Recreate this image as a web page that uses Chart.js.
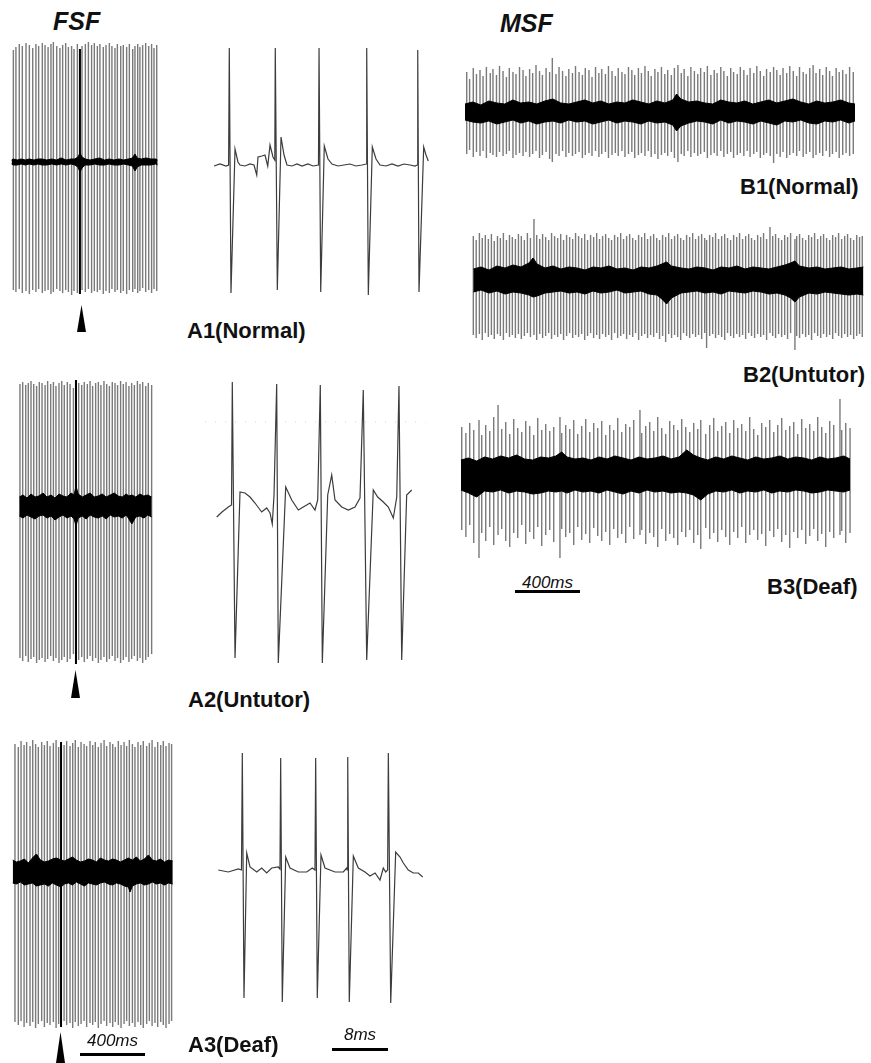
<!DOCTYPE html>
<html>
<head>
<meta charset="utf-8">
<script src="https://cdn.jsdelivr.net/npm/chart.js@4.4.1/dist/chart.umd.min.js"></script>
<style>
  body { margin: 0; background: #fff; }
  #fig { position: relative; width: 871px; height: 1063px; overflow: hidden; font-family: "Liberation Sans", Arial, sans-serif; }
  #fig canvas { position: absolute; }
  .lbl { position: absolute; font-weight: bold; font-size: 22px; line-height: 22px; color: #111; white-space: nowrap; }
  .head { position: absolute; font-weight: bold; font-style: italic; font-size: 25px; line-height: 25px; color: #111; }
  .sc { position: absolute; font-style: italic; font-size: 17px; line-height: 17px; color: #111; text-align: center; }
  .bar { position: absolute; height: 3px; background: #000; }
  .arrow { position: absolute; width: 9px; background: #000; clip-path: polygon(50% 0, 100% 100%, 0 100%); }
</style>
</head>
<body>
<div id="fig">
  <div class="head" style="left:53px;top:9px">FSF</div>
  <div class="head" style="left:500px;top:11px">MSF</div>

  <canvas id="a1raw" width="150" height="262" style="left:10px;top:38px"></canvas>
  <canvas id="a1zoom" width="235" height="260" style="left:205px;top:40px"></canvas>
  <div class="arrow" style="left:77px;top:305px;height:27px"></div>
  <div class="lbl" style="left:187px;top:320px">A1(Normal)</div>

  <canvas id="a2raw" width="145" height="295" style="left:15px;top:375px"></canvas>
  <canvas id="a2zoom" width="235" height="295" style="left:205px;top:375px"></canvas>
  <div class="arrow" style="left:71px;top:670px;height:28px"></div>
  <div class="lbl" style="left:188px;top:689px">A2(Untutor)</div>

  <canvas id="a3raw" width="170" height="300" style="left:10px;top:735px"></canvas>
  <canvas id="a3zoom" width="235" height="275" style="left:205px;top:740px"></canvas>
  <div class="arrow" style="left:56px;top:1032px;height:31px"></div>
  <div class="sc" style="left:80px;top:1032px;width:65px">400ms</div>
  <div class="bar" style="left:80px;top:1053px;width:65px"></div>
  <div class="lbl" style="left:188px;top:1034px">A3(Deaf)</div>
  <div class="sc" style="left:332px;top:1026px;width:56px">8ms</div>
  <div class="bar" style="left:332px;top:1048px;width:56px"></div>

  <canvas id="b1" width="400" height="120" style="left:460px;top:50px"></canvas>
  <div class="lbl" style="left:740px;top:176px">B1(Normal)</div>
  <canvas id="b2" width="403" height="145" style="left:465px;top:210px"></canvas>
  <div class="lbl" style="left:743px;top:364px">B2(Untutor)</div>
  <canvas id="b3" width="403" height="175" style="left:455px;top:390px"></canvas>
  <div class="sc" style="left:515px;top:574px;width:65px">400ms</div>
  <div class="bar" style="left:515px;top:590px;width:65px"></div>
  <div class="lbl" style="left:767px;top:576px">B3(Deaf)</div>
</div>

<script>
// spikes: [time ms, peak, trough] (amplitude in arbitrary units)
const A1_SPIKES = [[21,112,-128],[37,115,-130],[58,118,-127],[77,116,-131],[100,119,-129],[121,117,-132],[142,114,-128],[162,118,-130],[179,116,-127],[202,119,-131],[219,117,-129],[238,115,-128],[256,118,-132],[271,120,-130],[292,116,-127],[312,114,-129],[329,117,-131],[348,119,-128],[365,115,-130],[385,116,-133],[400,113,-129],[421,118,-131],[437,113,-132],[450,116,-128],[471,118,-130],[490,120,-127],[510,117,-131],[527,119,-129],[546,116,-130],[562,118,-128],[583,115,-132],[600,117,-129],[621,119,-131],[637,116,-127],[656,114,-130],[671,118,-128],[692,116,-131],[708,117,-129],[729,115,-132],[746,118,-128],[767,113,-130],[781,116,-127],[798,118,-131],[812,115,-129],[829,117,-126],[848,119,-130],[867,116,-128],[885,118,-131],[900,114,-127],[917,117,-129]];
const A1_MARK = [437];
const A1_BAND_T  = [10,20,45,70,95,120,150,175,200,230,260,290,320,350,380,405,425,437,450,470,500,530,560,590,620,650,680,710,740,765,781,795,820,850,880,910,922];
const A1_BAND_HI = [2,3,2,3,2,3,2,3,3,2,3,2,4,2,3,3,5,9,5,3,2,3,4,2,3,2,3,2,3,4,8,4,3,4,3,3,2];
const A1_BAND_LO = [-2,-3,-3,-2,-3,-2,-3,-2,-3,-3,-2,-3,-2,-3,-2,-3,-5,-10,-6,-3,-3,-2,-3,-3,-2,-3,-3,-2,-3,-4,-9,-5,-3,-3,-3,-2,-3];

const A2_SPIKES = [[31,122,-152],[48,124,-155],[67,121,-150],[83,123,-156],[100,125,-153],[117,122,-151],[135,120,-157],[152,124,-154],[169,123,-152],[188,121,-156],[204,125,-153],[223,122,-150],[240,124,-155],[256,120,-152],[275,123,-157],[292,125,-154],[308,121,-151],[327,124,-156],[344,122,-153],[365,118,-148],[381,126,-158],[398,123,-154],[417,121,-151],[433,124,-156],[452,122,-153],[469,125,-150],[485,120,-155],[504,123,-152],[521,124,-157],[537,121,-154],[556,125,-151],[573,122,-156],[590,120,-153],[608,124,-150],[625,123,-155],[641,121,-152],[660,125,-157],[677,122,-154],[694,124,-151],[712,120,-156],[729,123,-153],[746,121,-150],[765,125,-155],[781,122,-152],[798,124,-157],[817,120,-154],[833,123,-151],[854,121,-148]];
const A2_MARK = [381];
const A2_BAND_T  = [27,50,75,100,125,150,175,200,225,250,275,300,325,350,370,381,395,420,445,470,495,520,545,570,595,620,645,670,695,712,730,755,780,805,830,854];
const A2_BAND_HI = [9,11,8,12,9,10,13,9,11,8,12,10,9,13,11,20,12,9,11,13,9,10,12,9,11,13,10,9,12,10,11,9,12,10,11,9];
const A2_BAND_LO = [-10,-12,-9,-11,-13,-10,-9,-12,-10,-14,-11,-9,-12,-10,-13,-20,-12,-10,-13,-9,-11,-12,-10,-13,-9,-11,-10,-12,-9,-13,-18,-11,-10,-12,-9,-11];

const A3_SPIKES = [[31,128,-150],[52,125,-153],[69,131,-149],[88,127,-155],[104,130,-151],[125,126,-154],[142,132,-150],[160,128,-156],[177,125,-152],[198,130,-149],[215,127,-155],[233,131,-151],[250,126,-153],[271,129,-150],[288,132,-156],[304,125,-152],[319,130,-155],[338,127,-149],[354,131,-153],[375,126,-151],[392,129,-156],[408,132,-150],[427,125,-154],[444,130,-152],[463,128,-149],[479,126,-155],[500,131,-151],[517,127,-153],[533,130,-150],[552,125,-156],[569,129,-152],[588,132,-149],[604,126,-154],[625,130,-151],[642,128,-155],[658,125,-150],[677,131,-153],[694,127,-156],[713,130,-152],[729,126,-149],[746,132,-154],[765,128,-151],[781,125,-155],[800,130,-150],[817,127,-153],[833,131,-156],[854,126,-152],[871,129,-149],[888,132,-154],[906,125,-151],[923,130,-155],[942,127,-150],[958,131,-153],[975,126,-156],[994,129,-152],[1010,128,-149]];
const A3_MARK = [319];
const A3_BAND_T  = [17,40,65,90,115,140,165,190,215,240,265,290,319,340,365,390,415,440,465,490,515,540,565,590,615,640,665,690,715,740,750,765,790,815,840,865,890,915,940,965,990,1017];
const A3_BAND_HI = [12,10,11,13,9,14,18,12,10,11,13,14,12,11,13,15,12,10,11,13,12,10,14,12,11,13,12,10,12,14,13,12,15,11,13,17,12,11,13,10,12,11];
const A3_BAND_LO = [-11,-12,-10,-13,-12,-11,-14,-13,-12,-14,-11,-13,-15,-12,-11,-13,-10,-12,-14,-11,-12,-13,-11,-10,-12,-13,-11,-12,-14,-15,-20,-14,-12,-11,-13,-12,-10,-12,-11,-13,-11,-12];

// zoomed single-unit traces: time (ms), amplitude
const A1Z_T = [1.29,2.14,3.0,3.37,3.47,3.71,4.29,4.71,5.0,5.71,6.43,7.0,7.39,7.57,8.14,8.57,8.96,9.29,9.71,9.97,10.04,10.33,10.86,11.29,11.71,12.43,13.14,13.86,14.71,15.43,16.21,16.29,16.53,17.04,17.57,18.14,19.0,19.86,20.71,21.57,22.43,23.03,23.1,23.33,23.9,24.43,25.0,25.86,26.71,27.57,28.43,29.29,30.0,30.31,30.39,30.57,31.24,31.57,31.9];
const A1Z_V = [-1,1,-1,0,117,-128,16,3,0,-1,1,0,-10,8,9,10,-1,20,8,5,117,-125,28,10,0,-1,1,-1,1,-1,0,117,-127,19,6,1,-1,0,1,-1,0,1,117,-130,18,6,0,-1,1,-1,1,0,-1,0,115,-127,18,10,4];

const A2Z_T = [1.67,2.43,3.33,3.79,3.9,4.29,5.0,5.71,6.43,7.14,8.1,8.81,9.29,9.61,9.86,10.24,10.47,11.53,12.39,13.33,14.04,15.0,15.71,16.1,16.47,16.76,17.53,18.1,18.57,19.53,20.47,21.43,22.14,22.61,23.1,24.04,24.67,25.47,26.19,26.9,27.39,27.71,28.1,28.81,29.53];
const A2Z_V = [-11,-6,-1,1,124,-152,14,13,9,3,-6,-2,-7,-18,11,122,-157,19,6,-4,-1,3,-4,6,121,-157,11,31,6,-1,-4,-1,8,116,-154,16,9,4,-1,-12,9,120,-154,11,16];
const A2Z_GUIDE = [84, 84];

const A3Z_T = [1.9,3.33,4.76,5.21,5.33,5.57,5.96,6.43,7.39,8.1,8.81,9.53,10.47,10.71,10.81,11.04,11.53,12.14,13.33,14.53,15.33,15.71,15.81,16.04,16.57,17.14,18.57,19.76,20.24,20.31,20.39,20.61,21.19,21.9,22.86,23.57,24.29,25.0,25.47,25.81,26.09,26.19,26.53,27.24,27.86,28.33,29.04,29.76,30.47,31.1];
const A3Z_V = [0,-2,1,0,117,-128,17,3,-2,2,-3,2,3,1,112,-132,13,2,-2,-2,2,0,112,-128,15,2,-2,-2,2,0,113,-132,14,2,-2,-6,-3,-10,2,-2,0,117,-133,18,13,7,0,-3,-3,-7];

const B1_SPIKES = [[42,40,-42],[60,33,-38],[83,44,-45],[103,38,-40],[125,42,-44],[144,36,-39],[165,45,-46],[189,39,-41],[206,43,-43],[228,37,-45],[247,46,-40],[269,41,-44],[290,35,-42],[308,44,-39],[331,40,-46],[350,38,-43],[372,45,-41],[394,42,-44],[412,36,-40],[435,43,-45],[454,39,-42],[475,47,-39],[497,41,-46],[515,37,-43],[538,44,-40],[560,40,-47],[577,54,-50],[600,38,-42],[619,45,-44],[641,41,-39],[662,36,-45],[680,43,-41],[703,39,-44],[722,46,-42],[744,40,-40],[765,37,-46],[783,44,-43],[806,42,-41],[825,35,-44],[847,45,-39],[868,39,-45],[886,43,-42],[909,38,-40],[928,46,-46],[950,41,-43],[971,36,-41],[989,44,-44],[1012,40,-39],[1031,38,-45],[1053,45,-42],[1074,42,-40],[1092,37,-46],[1115,44,-43],[1134,39,-41],[1156,46,-44],[1177,41,-39],[1195,36,-45],[1218,43,-42],[1237,40,-47],[1259,45,-43],[1280,38,-41],[1298,42,-44],[1321,37,-40],[1340,44,-46],[1362,47,-50],[1383,39,-42],[1401,43,-44],[1424,36,-39],[1443,45,-45],[1465,41,-41],[1486,38,-44],[1504,44,-42],[1527,40,-40],[1546,46,-46],[1568,37,-43],[1589,42,-41],[1607,39,-44],[1630,45,-39],[1649,41,-45],[1671,36,-42],[1692,44,-40],[1710,40,-46],[1733,38,-43],[1752,45,-41],[1774,42,-44],[1795,37,-39],[1813,44,-45],[1836,39,-42],[1855,46,-40],[1877,41,-46],[1898,36,-43],[1916,43,-41],[1939,40,-44],[1960,45,-51],[1980,42,-42],[2001,37,-45],[2019,44,-40],[2042,39,-46],[2061,46,-43],[2083,41,-41],[2104,36,-44],[2122,45,-39],[2145,40,-45],[2164,38,-42],[2186,44,-40],[2207,47,-46],[2225,39,-43],[2248,43,-41],[2267,37,-44],[2289,45,-39],[2310,41,-45],[2328,36,-42],[2351,44,-40],[2370,40,-46],[2392,42,-43],[2413,38,-41],[2435,45,-44],[2458,40,-42]];
const B1_BAND_T  = [31,80,130,180,230,280,330,380,430,480,530,580,630,680,730,780,830,880,930,980,1030,1080,1130,1180,1230,1280,1330,1354,1380,1430,1480,1530,1580,1630,1680,1730,1780,1830,1880,1930,1980,2030,2080,2130,2180,2230,2280,2330,2380,2430,2469];
const B1_BAND_HI = [8,10,7,11,9,8,12,9,10,8,11,13,9,8,10,12,9,11,8,10,9,12,10,8,11,9,12,18,13,10,11,9,8,12,10,9,11,8,10,12,9,11,13,10,8,11,9,10,12,9,8];
const B1_BAND_LO = [-8,-10,-11,-9,-12,-10,-8,-11,-9,-12,-10,-9,-11,-8,-10,-9,-12,-10,-8,-11,-9,-10,-12,-9,-11,-10,-13,-19,-14,-11,-9,-10,-12,-8,-11,-9,-10,-12,-9,-11,-13,-9,-10,-8,-11,-12,-9,-10,-8,-11,-9];

const B2_SPIKES = [[52,44,-55],[70,40,-58],[90,47,-54],[108,42,-60],[127,45,-53],[146,41,-57],[165,46,-55],[183,39,-59],[203,44,-54],[221,42,-56],[240,47,-60],[259,40,-53],[278,45,-57],[296,43,-55],[315,41,-58],[334,46,-54],[352,44,-59],[371,40,-56],[390,47,-53],[409,42,-57],[431,61,-55],[448,45,-60],[467,41,-54],[485,46,-58],[504,43,-56],[523,40,-53],[541,47,-59],[560,44,-55],[579,42,-57],[598,46,-54],[616,40,-60],[635,45,-56],[654,43,-53],[673,41,-58],[691,47,-55],[710,44,-57],[729,42,-54],[748,46,-60],[766,40,-56],[785,45,-53],[804,43,-58],[823,47,-55],[841,41,-59],[860,44,-54],[879,46,-57],[898,42,-55],[916,40,-60],[935,45,-53],[954,43,-58],[973,47,-56],[991,41,-54],[1010,44,-59],[1029,46,-55],[1048,42,-57],[1066,40,-53],[1085,45,-60],[1104,43,-56],[1123,47,-54],[1141,41,-58],[1160,44,-55],[1179,46,-57],[1198,42,-53],[1216,40,-59],[1235,45,-56],[1254,43,-62],[1273,47,-54],[1291,41,-58],[1310,44,-55],[1329,46,-57],[1348,42,-60],[1366,40,-53],[1385,45,-56],[1404,43,-58],[1423,47,-54],[1441,41,-57],[1460,44,-55],[1479,46,-59],[1498,42,-53],[1510,40,-68],[1529,45,-56],[1548,43,-54],[1566,47,-58],[1585,41,-55],[1604,44,-57],[1623,46,-60],[1641,42,-53],[1660,40,-56],[1679,45,-58],[1698,43,-54],[1716,47,-57],[1735,41,-55],[1754,44,-59],[1773,46,-53],[1791,42,-56],[1810,40,-58],[1829,45,-54],[1848,43,-57],[1866,47,-55],[1885,41,-60],[1906,53,-53],[1923,44,-56],[1941,46,-58],[1960,42,-54],[1979,40,-57],[1998,45,-55],[2016,43,-59],[2035,47,-53],[2062,41,-70],[2073,44,-56],[2091,46,-58],[2110,42,-54],[2129,40,-57],[2148,45,-55],[2166,43,-60],[2185,47,-53],[2204,41,-56],[2223,44,-58],[2241,46,-54],[2260,42,-57],[2279,40,-55],[2298,45,-59],[2316,43,-53],[2335,47,-56],[2354,41,-58],[2373,44,-54],[2391,46,-57],[2410,42,-55],[2429,40,-59],[2448,45,-56],[2466,43,-54],[2483,44,-57]];
const B2_BAND_T  = [52,100,150,200,250,300,350,400,425,450,500,550,600,650,700,750,800,850,900,950,1000,1050,1100,1150,1200,1230,1260,1290,1350,1400,1450,1500,1550,1600,1650,1700,1750,1800,1850,1900,1950,2000,2035,2062,2090,2150,2200,2250,2300,2350,2400,2450,2490];
const B2_BAND_HI = [11,13,10,14,12,15,13,17,22,16,12,14,11,13,12,10,13,12,14,11,12,10,13,12,14,16,18,14,12,11,13,12,10,13,12,14,11,13,12,11,13,15,17,19,14,12,13,11,12,13,11,12,13];
const B2_BAND_LO = [-12,-10,-13,-11,-14,-12,-13,-15,-17,-16,-13,-12,-11,-13,-12,-14,-11,-13,-12,-10,-13,-12,-11,-14,-15,-19,-24,-18,-13,-12,-11,-13,-12,-14,-11,-12,-13,-11,-12,-14,-13,-15,-18,-22,-17,-13,-14,-12,-13,-14,-15,-14,-15];

const B3_SPIKES = [[42,48,-55],[68,42,-62],[92,52,-50],[117,45,-68],[150,55,-83],[167,40,-58],[192,50,-66],[217,44,-52],[242,58,-70],[269,70,-60],[292,46,-54],[317,53,-66],[342,41,-72],[367,56,-58],[392,47,-63],[417,43,-50],[442,54,-69],[467,49,-57],[492,40,-64],[517,57,-52],[542,45,-71],[567,51,-60],[592,44,-55],[617,48,-67],[656,58,-83],[667,42,-54],[692,50,-62],[717,46,-58],[742,55,-70],[767,41,-52],[792,49,-65],[817,56,-59],[842,43,-68],[867,52,-53],[892,47,-61],[917,54,-66],[942,40,-57],[967,50,-70],[992,45,-54],[1017,57,-63],[1042,43,-59],[1067,51,-68],[1092,48,-52],[1117,55,-64],[1156,65,-60],[1167,42,-55],[1192,49,-69],[1217,53,-58],[1242,44,-62],[1267,58,-72],[1292,47,-54],[1317,41,-66],[1342,54,-59],[1367,50,-63],[1392,45,-70],[1417,56,-57],[1442,48,-62],[1467,43,-55],[1492,52,-68],[1517,46,-60],[1536,55,-74],[1567,41,-53],[1592,50,-64],[1617,57,-58],[1642,44,-67],[1667,49,-55],[1692,53,-62],[1717,42,-70],[1742,55,-57],[1767,47,-63],[1792,51,-52],[1817,44,-68],[1842,58,-60],[1867,46,-55],[1892,40,-65],[1917,52,-59],[1942,48,-71],[1967,55,-56],[1992,43,-62],[2017,50,-54],[2042,57,-67],[2067,45,-60],[2092,49,-73],[2117,53,-57],[2142,41,-63],[2167,56,-55],[2192,47,-69],[2217,51,-61],[2242,44,-54],[2267,58,-66],[2292,48,-59],[2317,42,-72],[2342,54,-57],[2367,50,-63],[2406,76,-60],[2417,45,-56],[2442,52,-68],[2469,47,-58]];
const B3_BAND_T  = [37,85,135,185,235,285,335,385,435,485,535,585,630,667,700,750,800,850,900,950,1000,1050,1100,1150,1200,1250,1300,1350,1400,1448,1490,1536,1580,1630,1680,1730,1780,1830,1880,1930,1980,2030,2080,2130,2180,2230,2280,2330,2380,2430,2469];
const B3_BAND_HI = [15,17,14,18,16,19,17,20,16,15,18,17,19,23,18,16,17,15,18,16,19,17,15,18,16,17,19,16,18,25,20,17,15,18,16,19,17,15,18,16,17,19,16,18,17,15,18,16,17,19,16];
const B3_BAND_LO = [-15,-18,-22,-16,-17,-15,-18,-16,-17,-19,-18,-16,-17,-16,-18,-15,-17,-16,-18,-15,-17,-19,-16,-18,-15,-17,-16,-18,-17,-18,-20,-25,-19,-16,-17,-15,-18,-16,-17,-15,-18,-16,-17,-15,-16,-18,-17,-15,-16,-17,-15];

// vertical strokes, one per spike, broken by null gaps
function spikePoints(spikes, only) {
  const pts = [];
  spikes.forEach(([t, up, down]) => {
    if (only && !only.includes(t)) return;
    pts.push({x: t, y: up}, {x: t, y: down}, {x: t, y: null});
  });
  return pts;
}

function xy(ts, vs) {
  return ts.map((t, i) => ({x: t, y: vs[i]}));
}

function draw(id, xMax, yMin, yMax, datasets) {
  new Chart(document.getElementById(id), {
    type: 'line',
    data: { datasets },
    options: {
      responsive: false,
      animation: false,
      devicePixelRatio: 1,
      layout: { padding: 0 },
      events: [],
      plugins: { legend: { display: false }, tooltip: { enabled: false } },
      elements: { point: { radius: 0 }, line: { tension: 0 } },
      scales: {
        x: { type: 'linear', display: false, min: 0, max: xMax },
        y: { display: false, min: yMin, max: yMax }
      }
    }
  });
}

function rawTrace(id, xMax, yMin, yMax, spikes, marks, bandT, bandHi, bandLo) {
  const sets = [
    { data: xy(bandT, bandHi), borderColor: '#000', borderWidth: 1, backgroundColor: '#000', fill: '+1' },
    { data: xy(bandT, bandLo), borderColor: '#000', borderWidth: 1, fill: false },
    { data: spikePoints(spikes), borderColor: '#7a7a7a', borderWidth: 1.4, spanGaps: false, fill: false }
  ];
  if (marks) {
    sets.splice(2, 0, { data: spikePoints(spikes, marks), borderColor: '#000', borderWidth: 2, spanGaps: false, fill: false });
  }
  draw(id, xMax, yMin, yMax, sets);
}

function zoomTrace(id, yMin, yMax, ts, vs, guide) {
  const sets = [{ data: xy(ts, vs), borderColor: '#3c3c3c', borderWidth: 1.2, fill: false }];
  if (guide) {
    sets.push({ data: xy([0, 31.5], guide), borderColor: '#d4d4d4', borderWidth: 1, borderDash: [1, 9], fill: false });
  }
  draw(id, 33.57, yMin, yMax, sets);
}

rawTrace('a1raw', 937.5, -138, 124, A1_SPIKES, A1_MARK, A1_BAND_T, A1_BAND_HI, A1_BAND_LO);
rawTrace('a2raw', 906.25, -164, 131, A2_SPIKES, A2_MARK, A2_BAND_T, A2_BAND_HI, A2_BAND_LO);
rawTrace('a3raw', 1062.5, -163, 137, A3_SPIKES, A3_MARK, A3_BAND_T, A3_BAND_HI, A3_BAND_LO);

zoomTrace('a1zoom', -135, 125, A1Z_T, A1Z_V);
zoomTrace('a2zoom', -164, 131, A2Z_T, A2Z_V, A2Z_GUIDE);
zoomTrace('a3zoom', -145, 130, A3Z_T, A3Z_V);

rawTrace('b1', 2500, -58, 62, B1_SPIKES, null, B1_BAND_T, B1_BAND_HI, B1_BAND_LO);
rawTrace('b2', 2518.75, -75, 70, B2_SPIKES, null, B2_BAND_T, B2_BAND_HI, B2_BAND_LO);
rawTrace('b3', 2518.75, -90, 85, B3_SPIKES, null, B3_BAND_T, B3_BAND_HI, B3_BAND_LO);
</script>
</body>
</html>
